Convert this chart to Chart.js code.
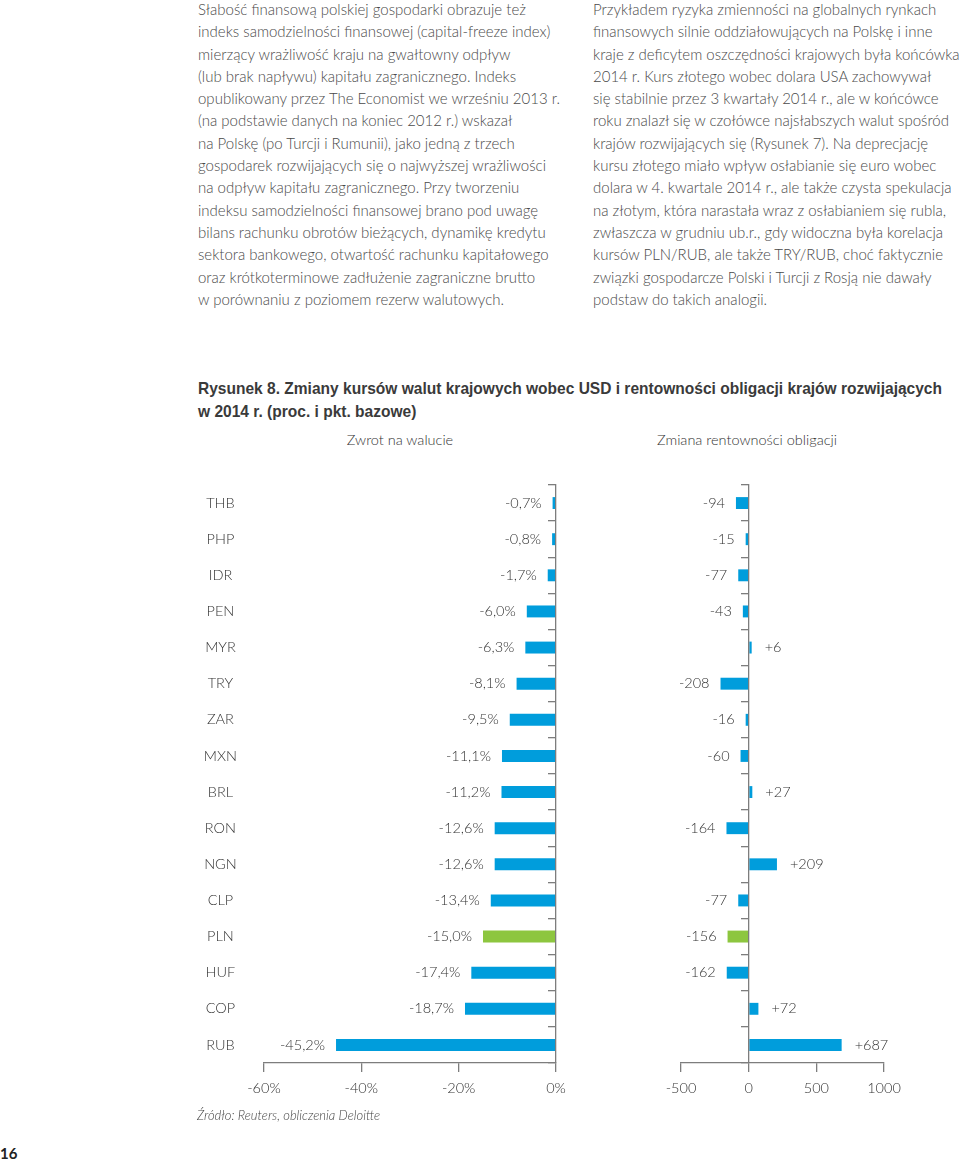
<!DOCTYPE html>
<html lang="pl">
<head>
<meta charset="utf-8">
<title>Rysunek 8</title>
<script src="https://cdn.jsdelivr.net/npm/chart.js@4"></script>
<style>
  html, body { margin: 0; padding: 0; background: #fff; }
  body { width: 960px; height: 1162px; position: relative; overflow: hidden;
         font-family: Lato, "Open Sans", sans-serif; color: #4a4a4a; }
  .kolumna { position: absolute; top: -2px; font-size: 15px; line-height: 22.3px;
             font-weight: 300; white-space: nowrap; }
  .tytul { position: absolute; left: 198px; top: 378px; font-family: "Liberation Sans", Arial, sans-serif;
           font-weight: bold; font-size: 17px; line-height: 22.5px; color: #3a3a3a; white-space: nowrap;
           transform-origin: 0 0; }
  .podtytul { position: absolute; top: 431px; font-size: 14.5px; font-weight: 300; color: #333; transform: translateX(-50%); white-space: nowrap; }
  .wykres { position: absolute; top: 470px; height: 640px; }
  .zrodlo { position: absolute; left: 197px; top: 1107px; font-size: 13px; font-style: italic; color: #444; font-weight: 300; }
  .strona { position: absolute; left: 0; top: 1144px; font-size: 15px; font-weight: bold; color: #222; }
</style>
</head>
<body>

<div class="kolumna" style="left:198px">
Słabość finansową polskiej gospodarki obrazuje też<br>
indeks samodzielności finansowej (capital-freeze index)<br>
mierzący wrażliwość kraju na gwałtowny odpływ<br>
(lub brak napływu) kapitału zagranicznego. Indeks<br>
opublikowany przez The Economist we wrześniu 2013 r.<br>
(na podstawie danych na koniec 2012 r.) wskazał<br>
na Polskę (po Turcji i Rumunii), jako jedną z trzech<br>
gospodarek rozwijających się o najwyższej wrażliwości<br>
na odpływ kapitału zagranicznego. Przy tworzeniu<br>
indeksu samodzielności finansowej brano pod uwagę<br>
bilans rachunku obrotów bieżących, dynamikę kredytu<br>
sektora bankowego, otwartość rachunku kapitałowego<br>
oraz krótkoterminowe zadłużenie zagraniczne brutto<br>
w porównaniu z poziomem rezerw walutowych.
</div>

<div class="kolumna" style="left:593px">
Przykładem ryzyka zmienności na globalnych rynkach<br>
finansowych silnie oddziałowujących na Polskę i inne<br>
kraje z deficytem oszczędności krajowych była końcówka<br>
2014 r. Kurs złotego wobec dolara USA zachowywał<br>
się stabilnie przez 3 kwartały 2014 r., ale w końcówce<br>
roku znalazł się w czołówce najsłabszych walut spośród<br>
krajów rozwijających się (Rysunek 7). Na deprecjację<br>
kursu złotego miało wpływ osłabianie się euro wobec<br>
dolara w 4. kwartale 2014 r., ale także czysta spekulacja<br>
na złotym, która narastała wraz z osłabianiem się rubla,<br>
zwłaszcza w grudniu ub.r., gdy widoczna była korelacja<br>
kursów PLN/RUB, ale także TRY/RUB, choć faktycznie<br>
związki gospodarcze Polski i Turcji z Rosją nie dawały<br>
podstaw do takich analogii.
</div>

<div class="tytul" id="tytul"><span id="tytulLinia">Rysunek 8. Zmiany kursów walut krajowych wobec USD i rentowności obligacji krajów rozwijających</span><br>w 2014 r. (proc. i pkt. bazowe)</div>

<div class="podtytul" style="left:400px">Zwrot na walucie</div>
<div class="podtytul" style="left:747px">Zmiana rentowności obligacji</div>

<div class="wykres" style="left:190px;width:380px"><canvas id="wykresZwrot"></canvas></div>
<div class="wykres" style="left:600px;width:330px"><canvas id="wykresRentownosc"></canvas></div>

<div class="zrodlo">Źródło: Reuters, obliczenia Deloitte</div>
<div class="strona">16</div>

<script>
// dane
const waluty = ['THB', 'PHP', 'IDR', 'PEN', 'MYR', 'TRY', 'ZAR', 'MXN', 'BRL', 'RON', 'NGN', 'CLP', 'PLN', 'HUF', 'COP', 'RUB'];
const zwrotNaWalucie = [-0.7, -0.8, -1.7, -6.0, -6.3, -8.1, -9.5, -11.1, -11.2, -12.6, -12.6, -13.4, -15.0, -17.4, -18.7, -45.2];
const zmianaRentownosci = [-94, -15, -77, -43, 6, -208, -16, -60, 27, -164, 209, -77, -156, -162, 72, 687];
const osZwrot = [-60, -40, -20, 0];
const osRentownosc = [-500, 0, 500, 1000];

const NIEBIESKI = '#009ddc';
const ZIELONY = '#8dc63f';
const SZARY = '#7d7d7d';
const CZCIONKA = { family: 'Lato, "Open Sans", sans-serif', size: 14.5, weight: '300' };

function kolorySlupkow() {
    return waluty.map(w => w === 'PLN' ? ZIELONY : NIEBIESKI);
}

// etykiety wartości obok końca słupka
function etykietyWartosci(format) {
    return {
        id: 'etykietyWartosci',
        afterDatasetsDraw(chart) {
            const ctx = chart.ctx;
            const dane = chart.data.datasets[0].data;
            ctx.save();
            ctx.font = '300 14.5px Lato, "Open Sans", sans-serif';
            ctx.fillStyle = '#333';
            ctx.textBaseline = 'middle';
            chart.getDatasetMeta(0).data.forEach((slupek, i) => {
                const v = dane[i];
                if (v < 0) {
                    ctx.textAlign = 'right';
                    ctx.fillText(format(v), slupek.x - 11, slupek.y);
                } else {
                    ctx.textAlign = 'left';
                    ctx.fillText(format(v), slupek.x + 13, slupek.y);
                }
            });
            ctx.restore();
        }
    };
}

function osX(ticki, format) {
    return {
        min: ticki[0],
        max: ticki[ticki.length - 1],
        afterBuildTicks(scale) { scale.ticks = ticki.map(v => ({ value: v })); },
        afterFit(scale) {
            scale.height = 40;
            scale.paddingLeft = 0;
            scale.paddingRight = 0;
        },
        grid: { drawOnChartArea: false, drawTicks: true, tickLength: 9, color: SZARY, lineWidth: 1.3 },
        border: { color: SZARY, width: 1.3 },
        ticks: { color: '#333', font: CZCIONKA, padding: 8, maxRotation: 0, callback: format }
    };
}

function osY() {
    return {
        position: { x: 0 },
        grid: { drawOnChartArea: false, drawTicks: true, tickLength: 7, color: SZARY, lineWidth: 1.3, offset: true },
        border: { display: true, color: SZARY, width: 1.3, z: 1 },
        ticks: { display: false }
    };
}

function wspolneOpcje() {
    return {
        indexAxis: 'y',
        responsive: true,
        maintainAspectRatio: false,
        animation: false,
        plugins: { legend: { display: false }, tooltip: { enabled: false } },
        datasets: { bar: { barPercentage: 0.33, categoryPercentage: 1, minBarLength: 3 } }
    };
}

function rysujZwrot() {
    const ctx = document.getElementById('wykresZwrot').getContext('2d');
    const opcje = wspolneOpcje();
    opcje.layout = { padding: { left: 0, right: 14, top: 15, bottom: 7 } };
    opcje.scales = {
        x: osX(osZwrot, v => v + '%'),
        y: osY(),
        yEtykiety: {
            type: 'category',
            labels: waluty,
            position: 'left',
            offset: true,
            afterFit(scale) {
                scale.width = 74;
                scale.paddingTop = 0;
                scale.paddingBottom = 0;
            },
            grid: { display: false, drawTicks: false },
            border: { display: false },
            ticks: { color: '#333', font: CZCIONKA, crossAlign: 'center', padding: 27 }
        }
    };
    new Chart(ctx, {
        type: 'bar',
        data: {
            labels: waluty,
            datasets: [{
                label: 'Zwrot na walucie',
                data: zwrotNaWalucie,
                yAxisID: 'y',
                backgroundColor: kolorySlupkow(),
                borderWidth: 0
            }]
        },
        options: opcje,
        plugins: [etykietyWartosci(v => v.toFixed(1).replace('.', ',') + '%')]
    });
}

function rysujRentownosc() {
    const ctx = document.getElementById('wykresRentownosc').getContext('2d');
    const opcje = wspolneOpcje();
    opcje.layout = { padding: { left: 81, right: 46, top: 15, bottom: 7 } };
    opcje.scales = {
        x: osX(osRentownosc, v => v),
        y: osY()
    };
    new Chart(ctx, {
        type: 'bar',
        data: {
            labels: waluty,
            datasets: [{
                label: 'Zmiana rentowności obligacji',
                data: zmianaRentownosci,
                backgroundColor: kolorySlupkow(),
                borderWidth: 0
            }]
        },
        options: opcje,
        plugins: [etykietyWartosci(v => (v > 0 ? '+' : '') + v)]
    });
}

// dopasowanie szerokości tytułu do szerokości z oryginału
function dopasujTytul() {
    const linia = document.getElementById('tytulLinia');
    const skala = 744 / linia.getBoundingClientRect().width;
    document.getElementById('tytul').style.transform = 'scaleX(' + skala + ')';
}

window.onload = function() {
    dopasujTytul();
    rysujZwrot();
    rysujRentownosc();
};
</script>
</body>
</html>
